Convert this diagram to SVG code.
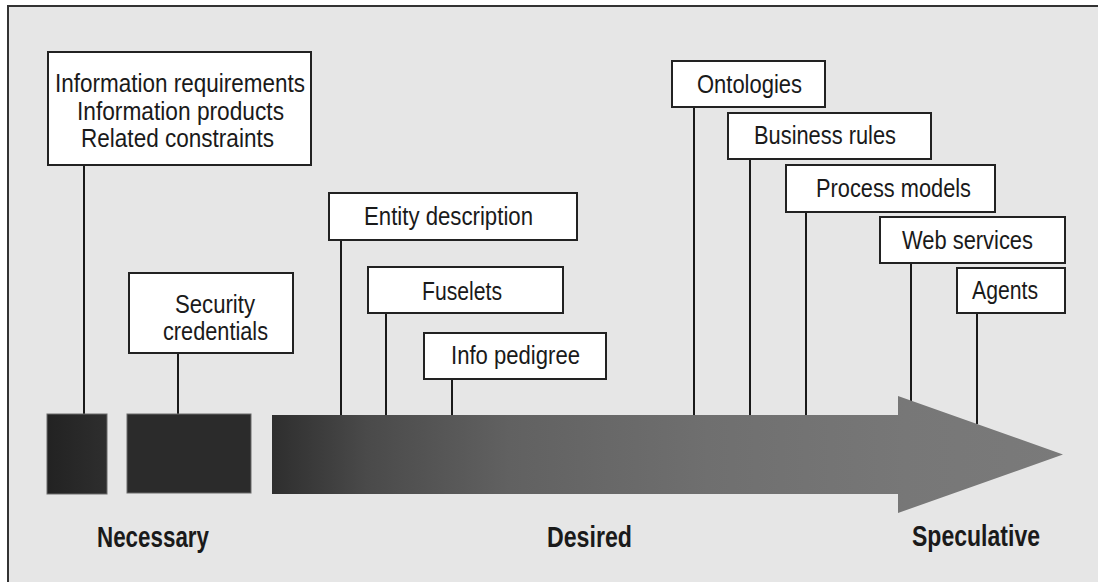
<svg xmlns="http://www.w3.org/2000/svg" width="1098" height="582" viewBox="0 0 1098 582">
<defs>
<linearGradient id="arrowGrad" gradientUnits="userSpaceOnUse" x1="272" y1="0" x2="1063" y2="0">
<stop offset="0" stop-color="#2e2e2e"/>
<stop offset="0.12" stop-color="#4a4a4a"/>
<stop offset="0.3" stop-color="#616161"/>
<stop offset="0.55" stop-color="#6f6f6f"/>
<stop offset="0.8" stop-color="#777777"/>
<stop offset="1" stop-color="#7a7a7a"/>
</linearGradient>
<linearGradient id="smallGrad" x1="0" y1="0" x2="1" y2="0">
<stop offset="0" stop-color="#222222"/>
<stop offset="1" stop-color="#2e2e2e"/>
</linearGradient>
<style>
.box{fill:#ffffff;stroke:#222222;stroke-width:2}
.lbl{font-family:"Liberation Sans",Arial,sans-serif;font-size:25px;fill:#1a1a1a;text-anchor:middle}
.cat{font-family:"Liberation Sans",Arial,sans-serif;font-size:29px;font-weight:bold;fill:#1a1a1a;text-anchor:middle}
.conn{stroke:#1a1a1a;stroke-width:2;fill:none}
</style>
</defs>
<rect x="0" y="0" width="1098" height="582" fill="#ffffff"/>
<rect x="8" y="6" width="1100" height="590" fill="#e6e6e6" stroke="#333333" stroke-width="2"/>

<g id="connectors">
<line class="conn" x1="84" y1="165" x2="84" y2="415"/>
<line class="conn" x1="178" y1="353" x2="178" y2="415"/>
<line class="conn" x1="341" y1="240" x2="341" y2="416"/>
<line class="conn" x1="386" y1="313" x2="386" y2="416"/>
<line class="conn" x1="452" y1="379" x2="452" y2="416"/>
<line class="conn" x1="694" y1="107" x2="694" y2="416"/>
<line class="conn" x1="750" y1="159" x2="750" y2="416"/>
<line class="conn" x1="806" y1="212" x2="806" y2="416"/>
<line class="conn" x1="911" y1="263" x2="911" y2="401"/>
<line class="conn" x1="977" y1="313" x2="977" y2="424"/>
</g>

<g id="timeline">
<rect x="47" y="414" width="60" height="80" fill="url(#smallGrad)" stroke="#6a6a6a" stroke-width="1"/>
<rect x="127" y="414" width="124" height="79" fill="#2b2b2b" stroke="#6a6a6a" stroke-width="1"/>
<polygon points="272,415 898,415 898,396 1063,454.5 898,513 898,494 272,494" fill="url(#arrowGrad)"/>
</g>

<g id="node-info">
<rect class="box" x="48" y="52" width="263" height="113"/>
<text class="lbl" x="180" y="92" textLength="250" lengthAdjust="spacingAndGlyphs">Information requirements</text>
<text class="lbl" x="180.5" y="120" textLength="207" lengthAdjust="spacingAndGlyphs">Information products</text>
<text class="lbl" x="177.5" y="147" textLength="193" lengthAdjust="spacingAndGlyphs">Related constraints</text>
</g>

<g id="node-security">
<rect class="box" x="129" y="273" width="164" height="80"/>
<text class="lbl" x="215" y="313" textLength="80" lengthAdjust="spacingAndGlyphs">Security</text>
<text class="lbl" x="215.5" y="340" textLength="105" lengthAdjust="spacingAndGlyphs">credentials</text>
</g>

<g id="node-entity">
<rect class="box" x="329" y="193" width="248" height="47"/>
<text class="lbl" x="448.5" y="225" textLength="169" lengthAdjust="spacingAndGlyphs">Entity description</text>
</g>

<g id="node-fuselets">
<rect class="box" x="368" y="267" width="195" height="46"/>
<text class="lbl" x="462" y="300" textLength="80" lengthAdjust="spacingAndGlyphs">Fuselets</text>
</g>

<g id="node-pedigree">
<rect class="box" x="424" y="333" width="182" height="46"/>
<text class="lbl" x="515.5" y="364" textLength="129" lengthAdjust="spacingAndGlyphs">Info pedigree</text>
</g>

<g id="node-ontologies">
<rect class="box" x="672" y="61" width="153" height="46"/>
<text class="lbl" x="749.5" y="93" textLength="105" lengthAdjust="spacingAndGlyphs">Ontologies</text>
</g>

<g id="node-business">
<rect class="box" x="728" y="113" width="203" height="46"/>
<text class="lbl" x="825" y="144" textLength="142" lengthAdjust="spacingAndGlyphs">Business rules</text>
</g>

<g id="node-process">
<rect class="box" x="786" y="165" width="209" height="47"/>
<text class="lbl" x="893.5" y="197" textLength="155" lengthAdjust="spacingAndGlyphs">Process models</text>
</g>

<g id="node-web">
<rect class="box" x="880" y="217" width="185" height="46"/>
<text class="lbl" x="967.5" y="249" textLength="131" lengthAdjust="spacingAndGlyphs">Web services</text>
</g>

<g id="node-agents">
<rect class="box" x="957" y="268" width="108" height="45"/>
<text class="lbl" x="1005" y="299" textLength="66" lengthAdjust="spacingAndGlyphs">Agents</text>
</g>

<g id="categories">
<text class="cat" x="153" y="547" textLength="112" lengthAdjust="spacingAndGlyphs">Necessary</text>
<text class="cat" x="589.5" y="547" textLength="85" lengthAdjust="spacingAndGlyphs">Desired</text>
<text class="cat" x="976" y="546" textLength="128" lengthAdjust="spacingAndGlyphs">Speculative</text>
</g>
</svg>
